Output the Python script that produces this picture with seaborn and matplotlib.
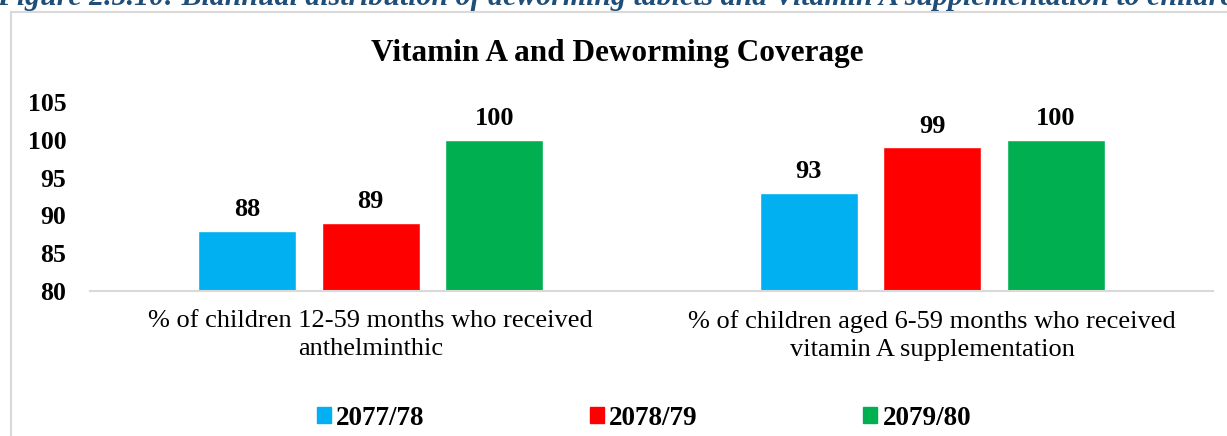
import matplotlib
matplotlib.use('Agg')
import matplotlib.pyplot as plt
import matplotlib.patches as mpatches
import seaborn as sns
import pandas as pd

indicators = ['% of children 12-59 months who received\nanthelminthic',
              '% of children aged 6-59 months who received\nvitamin A supplementation']
years = ['2077/78', '2078/79', '2079/80']
values_2077 = [88, 93]
values_2078 = [89, 99]
values_2079 = [100, 100]
colors = ['#00B0F0', '#FF0000', '#00B050']
yticks = [80, 85, 90, 95, 100, 105]


def main():
	df = pd.DataFrame({
		'indicator': indicators * 3,
		'year': [y for y in years for _ in indicators],
		'value': values_2077 + values_2078 + values_2079,
	})

	sns.set_theme(style='white')
	plt.rcParams['font.family'] = ['Liberation Serif', 'DejaVu Serif']
	plt.rcParams['text.color'] = 'black'
	plt.rcParams['xtick.color'] = 'black'
	plt.rcParams['ytick.color'] = 'black'

	fig = plt.figure(figsize=(12.27, 4.36), dpi=100)
	W, H = 1227, 436

	# caption cut off at the top of the page
	fig.text(-3 / W, 1 - 5 / H,
		'Figure 2.5.10: Biannual distribution of deworming tablets and Vitamin A supplementation to children',
		fontsize=21.5, fontweight='bold', fontstyle='italic', color='#1F4E79', ha='left', va='baseline')

	# chart frame
	fig.patches.append(mpatches.Rectangle((11 / W, -0.1), 1.2, 1 - 12 / H + 0.1,
		transform=fig.transFigure, fill=False, edgecolor='#D9D9D9', lw=1.5))

	ax = fig.add_axes([90 / W, 1 - 291 / H, (1213 - 90) / W, (291 - 102) / H])
	sns.barplot(data=df, x='indicator', y='value', hue='year', hue_order=years,
		palette=colors, width=0.66, gap=0.21, saturation=1, ax=ax, legend=False)

	for c in ax.containers:
		ax.bar_label(c, fmt='%d', padding=7, fontsize=19, fontweight='bold', color='black')

	ax.set_ylim(80, 105)
	ax.set_xlim(-0.5, 1.5)
	ax.set_yticks(yticks)
	ax.set_yticklabels([str(t) for t in yticks], fontsize=18.5, fontweight='bold')
	ax.tick_params(axis='y', length=0, pad=17)
	ax.tick_params(axis='x', length=0, pad=14, labelsize=19)
	for lab in ax.get_xticklabels():
		lab.set_linespacing(1.3)
	ax.set_xlabel('')
	ax.set_ylabel('')
	for s in ['top', 'right', 'left']:
		ax.spines[s].set_visible(False)
	ax.spines['bottom'].set_color('#D9D9D9')
	ax.spines['bottom'].set_linewidth(1.5)

	fig.text(617 / W, 1 - 53 / H, 'Vitamin A and Deworming Coverage',
		fontsize=22.5, fontweight='bold', ha='center', va='center', color='black')

	handles = [mpatches.Patch(color=c, label=y) for c, y in zip(colors, years)]
	fig.legend(handles=handles, loc='center', bbox_to_anchor=(644 / W, 1 - 418 / H), ncol=3,
		frameon=False, prop={'size': 19.5, 'weight': 'bold'}, handlelength=0.52, handleheight=0.52,
		handletextpad=0.2, columnspacing=6.1)

	fig.savefig('out.png', dpi=100)


if __name__ == '__main__':
	main()
